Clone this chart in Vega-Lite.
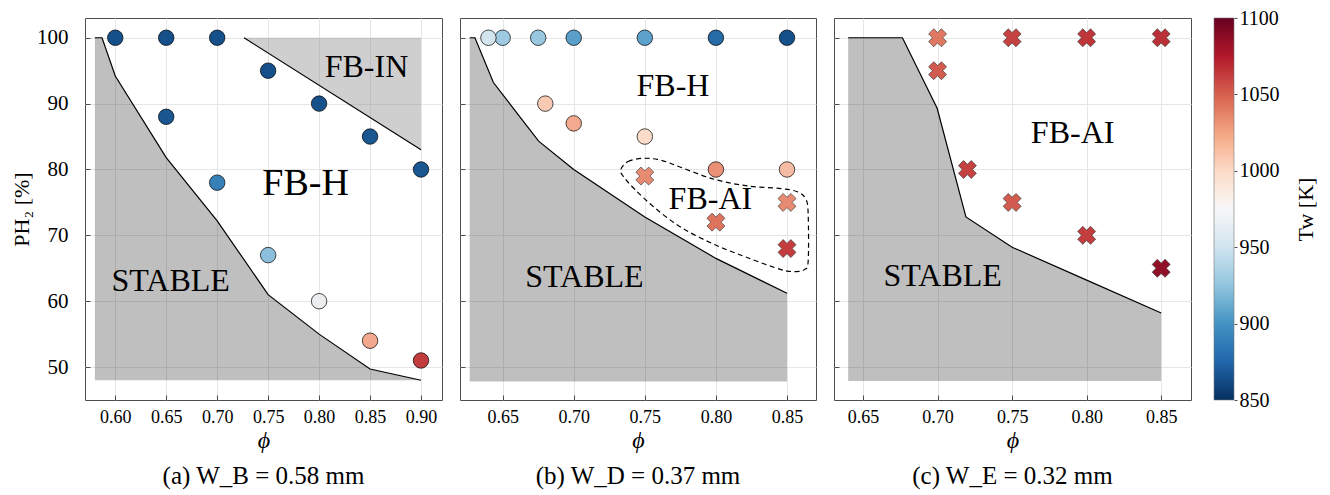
{
  "$schema": "https://vega.github.io/schema/vega-lite/v6.json",
  "padding": {"left": 10, "top": 8, "right": 4, "bottom": 4},
  "background": "white",
  "config": {
    "font": "Liberation Serif",
    "view": {"stroke": "#4d4d4d", "strokeWidth": 1},
    "axis": {"labelFont": "Liberation Serif", "titleFont": "Liberation Serif", "labelColor": "black", "titleColor": "black", "domain": false, "grid": true, "gridColor": "#e6e6e6", "gridWidth": 1, "tickColor": "#4d4d4d", "tickSize": -5, "titleFontWeight": "normal"},
    "axisX": {"labelFontSize": 18, "labelPadding": 13, "titleFontSize": 24, "titleFontStyle": "italic", "titlePadding": 2},
    "axisY": {"labelFontSize": 21, "labelPadding": 22, "titleFontSize": 22, "titlePadding": 3},
    "title": {"font": "Liberation Serif", "fontSize": 25, "fontWeight": "normal", "color": "black"}
  },
  "datasets": {
    "pts": [
      {"p": "a", "m": "o", "phi": 0.60, "ph2": 100, "tw": 853},
      {"p": "a", "m": "o", "phi": 0.65, "ph2": 100, "tw": 853},
      {"p": "a", "m": "o", "phi": 0.70, "ph2": 100, "tw": 853},
      {"p": "a", "m": "o", "phi": 0.75, "ph2": 95, "tw": 853},
      {"p": "a", "m": "o", "phi": 0.65, "ph2": 88, "tw": 856},
      {"p": "a", "m": "o", "phi": 0.80, "ph2": 90, "tw": 853},
      {"p": "a", "m": "o", "phi": 0.85, "ph2": 85, "tw": 856},
      {"p": "a", "m": "o", "phi": 0.90, "ph2": 80, "tw": 856},
      {"p": "a", "m": "o", "phi": 0.70, "ph2": 78, "tw": 880},
      {"p": "a", "m": "o", "phi": 0.75, "ph2": 67, "tw": 918},
      {"p": "a", "m": "o", "phi": 0.80, "ph2": 60, "tw": 970},
      {"p": "a", "m": "o", "phi": 0.85, "ph2": 54, "tw": 1027},
      {"p": "a", "m": "o", "phi": 0.90, "ph2": 51, "tw": 1073},
      {"p": "b", "m": "o", "phi": 0.65, "ph2": 100, "tw": 925},
      {"p": "b", "m": "o", "phi": 0.64, "ph2": 100, "tw": 950},
      {"p": "b", "m": "o", "phi": 0.675, "ph2": 100, "tw": 923},
      {"p": "b", "m": "o", "phi": 0.70, "ph2": 100, "tw": 898},
      {"p": "b", "m": "o", "phi": 0.75, "ph2": 100, "tw": 900},
      {"p": "b", "m": "o", "phi": 0.80, "ph2": 100, "tw": 868},
      {"p": "b", "m": "o", "phi": 0.85, "ph2": 100, "tw": 853},
      {"p": "b", "m": "o", "phi": 0.68, "ph2": 90, "tw": 1010},
      {"p": "b", "m": "o", "phi": 0.70, "ph2": 87, "tw": 1027},
      {"p": "b", "m": "o", "phi": 0.75, "ph2": 85, "tw": 1000},
      {"p": "b", "m": "o", "phi": 0.80, "ph2": 80, "tw": 1038},
      {"p": "b", "m": "o", "phi": 0.85, "ph2": 80, "tw": 1017},
      {"p": "b", "m": "x", "phi": 0.75, "ph2": 79, "tw": 1040},
      {"p": "b", "m": "x", "phi": 0.80, "ph2": 72, "tw": 1050},
      {"p": "b", "m": "x", "phi": 0.85, "ph2": 75, "tw": 1040},
      {"p": "b", "m": "x", "phi": 0.85, "ph2": 68, "tw": 1072},
      {"p": "c", "m": "x", "phi": 0.70, "ph2": 100, "tw": 1048},
      {"p": "c", "m": "x", "phi": 0.75, "ph2": 100, "tw": 1070},
      {"p": "c", "m": "x", "phi": 0.80, "ph2": 100, "tw": 1075},
      {"p": "c", "m": "x", "phi": 0.85, "ph2": 100, "tw": 1078},
      {"p": "c", "m": "x", "phi": 0.70, "ph2": 95, "tw": 1060},
      {"p": "c", "m": "x", "phi": 0.72, "ph2": 80, "tw": 1070},
      {"p": "c", "m": "x", "phi": 0.75, "ph2": 75, "tw": 1060},
      {"p": "c", "m": "x", "phi": 0.80, "ph2": 70, "tw": 1072},
      {"p": "c", "m": "x", "phi": 0.85, "ph2": 65, "tw": 1098}
    ],
    "bnd": [
      {"p": "a", "i": 0, "phi": 0.58, "ph2": 100},
      {"p": "a", "i": 1, "phi": 0.587, "ph2": 100},
      {"p": "a", "i": 2, "phi": 0.60, "ph2": 94.2},
      {"p": "a", "i": 3, "phi": 0.65, "ph2": 81.8},
      {"p": "a", "i": 4, "phi": 0.70, "ph2": 72.2},
      {"p": "a", "i": 5, "phi": 0.75, "ph2": 61.0},
      {"p": "a", "i": 6, "phi": 0.80, "ph2": 55.0},
      {"p": "a", "i": 7, "phi": 0.85, "ph2": 49.7},
      {"p": "a", "i": 8, "phi": 0.90, "ph2": 48.0},
      {"p": "b", "i": 0, "phi": 0.6268, "ph2": 100},
      {"p": "b", "i": 1, "phi": 0.6305, "ph2": 100},
      {"p": "b", "i": 2, "phi": 0.6435, "ph2": 93.2},
      {"p": "b", "i": 3, "phi": 0.6753, "ph2": 84.3},
      {"p": "b", "i": 4, "phi": 0.70, "ph2": 80.0},
      {"p": "b", "i": 5, "phi": 0.75, "ph2": 72.8},
      {"p": "b", "i": 6, "phi": 0.80, "ph2": 66.5},
      {"p": "b", "i": 7, "phi": 0.85, "ph2": 61.2},
      {"p": "c", "i": 0, "phi": 0.64, "ph2": 100},
      {"p": "c", "i": 1, "phi": 0.6764, "ph2": 100},
      {"p": "c", "i": 2, "phi": 0.6997, "ph2": 89.3},
      {"p": "c", "i": 3, "phi": 0.719, "ph2": 72.8},
      {"p": "c", "i": 4, "phi": 0.75, "ph2": 68.2},
      {"p": "c", "i": 5, "phi": 0.80, "ph2": 63.2},
      {"p": "c", "i": 6, "phi": 0.85, "ph2": 58.2}
    ],
    "fbin": [
      {"i": 0, "phi": 0.7263, "ph2": 100},
      {"i": 1, "phi": 0.90, "ph2": 83.0}
    ],
    "contour": [
      {"i": 0, "phi": 0.7331, "ph2": 80.0},
      {"i": 1, "phi": 0.7382, "ph2": 81.2},
      {"i": 2, "phi": 0.7487, "ph2": 81.7},
      {"i": 3, "phi": 0.7616, "ph2": 81.4},
      {"i": 4, "phi": 0.7756, "ph2": 80.3},
      {"i": 5, "phi": 0.7990, "ph2": 78.5},
      {"i": 6, "phi": 0.8224, "ph2": 77.5},
      {"i": 7, "phi": 0.8458, "ph2": 77.1},
      {"i": 8, "phi": 0.8575, "ph2": 76.6},
      {"i": 9, "phi": 0.8633, "ph2": 75.5},
      {"i": 10, "phi": 0.8649, "ph2": 73.2},
      {"i": 11, "phi": 0.8649, "ph2": 66.1},
      {"i": 12, "phi": 0.8622, "ph2": 64.8},
      {"i": 13, "phi": 0.8563, "ph2": 64.5},
      {"i": 14, "phi": 0.8458, "ph2": 64.8},
      {"i": 15, "phi": 0.8224, "ph2": 66.6},
      {"i": 16, "phi": 0.7990, "ph2": 68.6},
      {"i": 17, "phi": 0.7756, "ph2": 71.2},
      {"i": 18, "phi": 0.7569, "ph2": 74.2},
      {"i": 19, "phi": 0.7429, "ph2": 77.0},
      {"i": 20, "phi": 0.7347, "ph2": 79.0}
    ],
    "labels": [
      {"p": "a", "s": "n", "phi": 0.8465, "ph2": 95.5, "t": "FB-IN"},
      {"p": "a", "s": "L", "phi": 0.7868, "ph2": 77.8, "t": "FB-H"},
      {"p": "a", "s": "n", "phi": 0.6544, "ph2": 63.1, "t": "STABLE"},
      {"p": "b", "s": "n", "phi": 0.7698, "ph2": 92.7, "t": "FB-H"},
      {"p": "b", "s": "n", "phi": 0.7961, "ph2": 75.5, "t": "FB-AI"},
      {"p": "b", "s": "n", "phi": 0.7075, "ph2": 63.6, "t": "STABLE"},
      {"p": "c", "s": "n", "phi": 0.7906, "ph2": 85.6, "t": "FB-AI"},
      {"p": "c", "s": "n", "phi": 0.7034, "ph2": 63.8, "t": "STABLE"}
    ],
    "cbar": [
      {"lo": 850, "hi": 1100}
    ]
  },
  "spacing": 21,
  "hconcat": [
    {
      "spacing": 16,
      "resolve": {"scale": {"color": "shared"}},
      "hconcat": [
        {
          "width": 357,
          "height": 382,
          "title": {"text": "(a) W_B = 0.58 mm", "orient": "bottom", "offset": 12},
          "encoding": {
            "x": {"field": "phi", "type": "quantitative", "scale": {"domain": [0.5703, 0.9206], "nice": false, "zero": false}, "axis": {"values": [0.6, 0.65, 0.7, 0.75, 0.8, 0.85, 0.9], "format": ".2f", "title": "ϕ"}},
            "y": {"field": "ph2", "type": "quantitative", "scale": {"domain": [45, 103], "nice": false, "zero": false}, "axis": {"values": [50, 60, 70, 80, 90, 100], "title": "PH₂ [%]"}}
          },
          "layer": [
            {"data": {"name": "bnd"}, "transform": [{"filter": "datum.p === 'a'"}], "mark": {"type": "area", "fill": "black", "fillOpacity": 0.25}, "encoding": {"y": {"field": "ph2", "type": "quantitative", "stack": null}, "y2": {"datum": 48}}},
            {"data": {"name": "fbin"}, "mark": {"type": "area", "fill": "#8c8c8c", "fillOpacity": 0.42}, "encoding": {"y": {"field": "ph2", "type": "quantitative", "stack": null}, "y2": {"datum": 100}}},
            {"data": {"name": "bnd"}, "transform": [{"filter": "datum.p === 'a'"}], "mark": {"type": "line", "color": "black", "strokeWidth": 1.2}, "encoding": {"order": {"field": "i"}}},
            {"data": {"name": "fbin"}, "mark": {"type": "line", "color": "black", "strokeWidth": 1.2}, "encoding": {"order": {"field": "i"}}},
            {"data": {"name": "pts"}, "transform": [{"filter": "datum.p === 'a'"}], "mark": {"type": "point", "shape": "circle", "filled": true, "size": 240, "stroke": "black", "strokeWidth": 0.7, "opacity": 1},
             "encoding": {"color": {"field": "tw", "type": "quantitative", "scale": {"scheme": "redblue", "reverse": true, "domain": [850, 1100]}, "legend": null}}},
            {"data": {"name": "labels"}, "transform": [{"filter": "datum.p === 'a' && datum.s === 'n'"}], "mark": {"type": "text", "fontSize": 32, "color": "black"}, "encoding": {"text": {"field": "t"}}},
            {"data": {"name": "labels"}, "transform": [{"filter": "datum.p === 'a' && datum.s === 'L'"}], "mark": {"type": "text", "fontSize": 38, "color": "black"}, "encoding": {"text": {"field": "t"}}}
          ]
        },
        {
          "width": 356,
          "height": 382,
          "title": {"text": "(b)  W_D = 0.37 mm", "orient": "bottom", "offset": 12},
          "encoding": {
            "x": {"field": "phi", "type": "quantitative", "scale": {"domain": [0.620, 0.8704], "nice": false, "zero": false}, "axis": {"values": [0.65, 0.7, 0.75, 0.8, 0.85], "format": ".2f", "title": "ϕ"}},
            "y": {"field": "ph2", "type": "quantitative", "scale": {"domain": [45, 103], "nice": false, "zero": false}, "axis": {"values": [50, 60, 70, 80, 90, 100], "labels": false, "title": null}}
          },
          "layer": [
            {"data": {"name": "bnd"}, "transform": [{"filter": "datum.p === 'b'"}], "mark": {"type": "area", "fill": "black", "fillOpacity": 0.25}, "encoding": {"y": {"field": "ph2", "type": "quantitative", "stack": null}, "y2": {"datum": 47.8}}},
            {"data": {"name": "bnd"}, "transform": [{"filter": "datum.p === 'b'"}], "mark": {"type": "line", "color": "black", "strokeWidth": 1.2}, "encoding": {"order": {"field": "i"}}},
            {"data": {"name": "contour"}, "mark": {"type": "line", "color": "black", "strokeWidth": 1.2, "strokeDash": [5, 3.5], "interpolate": "cardinal-closed"}, "encoding": {"order": {"field": "i"}}},
            {"data": {"name": "pts"}, "transform": [{"filter": "datum.p === 'b' && datum.m === 'o'"}], "mark": {"type": "point", "shape": "circle", "filled": true, "size": 240, "stroke": "black", "strokeWidth": 0.7, "opacity": 1},
             "encoding": {"color": {"field": "tw", "type": "quantitative", "legend": null}}},
            {"data": {"name": "pts"}, "transform": [{"filter": "datum.p === 'b' && datum.m === 'x'"}], "mark": {"type": "point", "shape": "cross", "angle": 45, "filled": true, "size": 330, "stroke": "#333", "strokeWidth": 0.6, "opacity": 1},
             "encoding": {"color": {"field": "tw", "type": "quantitative", "legend": null}}},
            {"data": {"name": "labels"}, "transform": [{"filter": "datum.p === 'b'"}], "mark": {"type": "text", "fontSize": 32, "color": "black"}, "encoding": {"text": {"field": "t"}}}
          ]
        },
        {
          "width": 357,
          "height": 382,
          "title": {"text": "(c) W_E = 0.32 mm", "orient": "bottom", "offset": 12},
          "encoding": {
            "x": {"field": "phi", "type": "quantitative", "scale": {"domain": [0.6305, 0.870], "nice": false, "zero": false}, "axis": {"values": [0.65, 0.7, 0.75, 0.8, 0.85], "format": ".2f", "title": "ϕ"}},
            "y": {"field": "ph2", "type": "quantitative", "scale": {"domain": [45, 103], "nice": false, "zero": false}, "axis": {"values": [50, 60, 70, 80, 90, 100], "labels": false, "title": null}}
          },
          "layer": [
            {"data": {"name": "bnd"}, "transform": [{"filter": "datum.p === 'c'"}], "mark": {"type": "area", "fill": "black", "fillOpacity": 0.25}, "encoding": {"y": {"field": "ph2", "type": "quantitative", "stack": null}, "y2": {"datum": 47.9}}},
            {"data": {"name": "bnd"}, "transform": [{"filter": "datum.p === 'c'"}], "mark": {"type": "line", "color": "black", "strokeWidth": 1.2}, "encoding": {"order": {"field": "i"}}},
            {"data": {"name": "pts"}, "transform": [{"filter": "datum.p === 'c'"}], "mark": {"type": "point", "shape": "cross", "angle": 45, "filled": true, "size": 330, "stroke": "#333", "strokeWidth": 0.6, "opacity": 1},
             "encoding": {"color": {"field": "tw", "type": "quantitative", "legend": null}}},
            {"data": {"name": "labels"}, "transform": [{"filter": "datum.p === 'c'"}], "mark": {"type": "text", "fontSize": 32, "color": "black"}, "encoding": {"text": {"field": "t"}}}
          ]
        }
      ]
    },
    {
      "width": 20,
      "height": 382,
      "view": {"stroke": null},
      "data": {"name": "cbar"},
      "mark": {"type": "rect", "stroke": "#777", "strokeWidth": 0.6,
        "fill": {"gradient": "linear", "x1": 0, "y1": 1, "x2": 0, "y2": 0, "stops": [
          {"offset": 0, "color": "#053061"}, {"offset": 0.1, "color": "#2166ac"}, {"offset": 0.2, "color": "#4393c3"},
          {"offset": 0.3, "color": "#92c5de"}, {"offset": 0.4, "color": "#d1e5f0"}, {"offset": 0.5, "color": "#f7f7f7"},
          {"offset": 0.6, "color": "#fddbc7"}, {"offset": 0.7, "color": "#f4a582"}, {"offset": 0.8, "color": "#d6604d"},
          {"offset": 0.9, "color": "#b2182b"}, {"offset": 1, "color": "#67001f"}]}},
      "encoding": {
        "x": {"datum": 0, "type": "quantitative", "scale": {"domain": [0, 1], "nice": false, "zero": false}, "axis": null},
        "x2": {"datum": 1},
        "y": {"field": "lo", "type": "quantitative", "scale": {"domain": [850, 1100], "nice": false, "zero": false},
          "axis": {"orient": "right", "values": [850, 900, 950, 1000, 1050, 1100], "format": "d", "title": "Tw [K]", "titleAngle": 270, "grid": false, "tickSize": 3, "labelPadding": 2, "labelFlush": false, "labelFontSize": 20, "titleFontSize": 22, "titlePadding": 38}},
        "y2": {"field": "hi"}
      }
    }
  ]
}
